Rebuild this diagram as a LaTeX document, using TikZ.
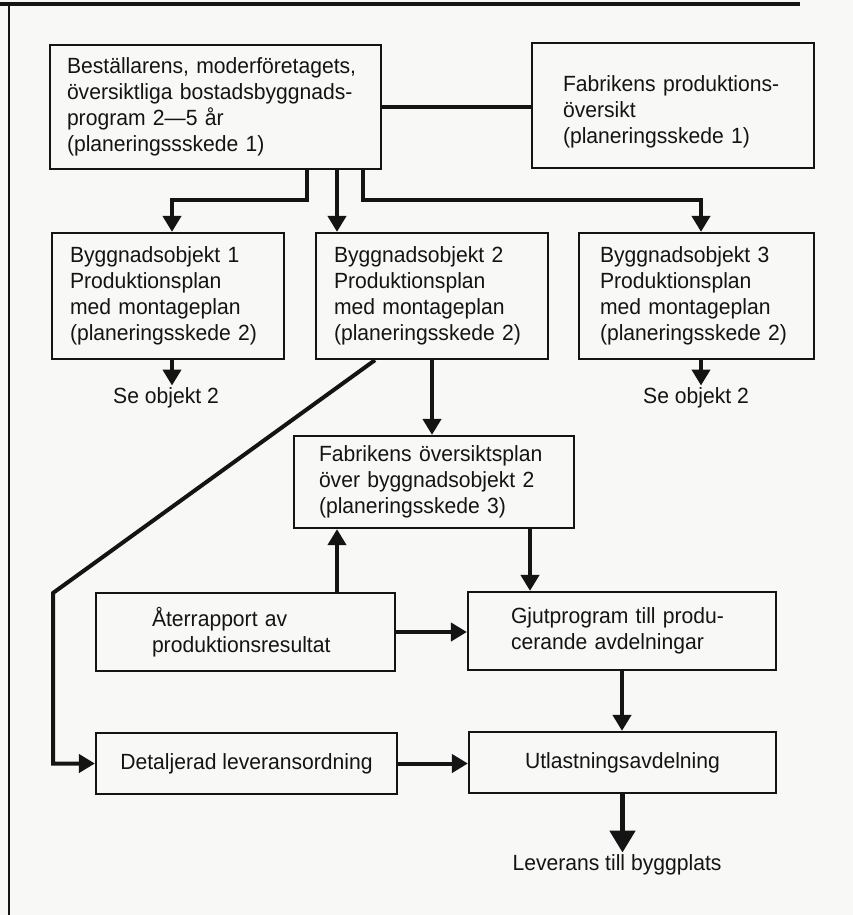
\documentclass[tikz,border=0pt]{standalone}
\usepackage{fontspec}
\setmainfont{Liberation Sans}[FakeStretch=0.96]
\usetikzlibrary{arrows.meta}
\definecolor{paper}{RGB}{248,248,246}
\definecolor{ink}{RGB}{20,20,20}
\begin{document}
\begin{tikzpicture}[x=1pt,y=-1pt,
  font=\fontsize{22}{26}\selectfont,
  every node/.style={text=ink},
  box/.style={draw=ink, line width=2.2pt, align=left, inner ysep=0pt},
  cbox/.style={draw=ink, line width=2.2pt, align=center, inner ysep=0pt},
  conn/.style={draw=ink, line width=4pt},
  arr/.style={conn, -{Triangle[width=18pt,length=16pt]}},
  bigarr/.style={draw=ink, line width=5pt, -{Triangle[width=25pt,length=22pt]}},
  lbl/.style={inner sep=2pt},
  frame/.style={draw=ink}]
\fill[paper] (0,0) rectangle (853,915);
\useasboundingbox (0,0) rectangle (853,915);
\draw[frame, line width=3.5pt] (0,4) -- (800,4);
\draw[frame, line width=2.5pt] (9,3) -- (9,915);

\node[box, minimum width=331pt, minimum height=124pt, inner xsep=17pt, text width=297pt] (A) at (215.5,107)
  {Beställarens, moderföretagets,\\översiktliga bostadsbyggnads-\\program 2—5 år\\(planeringssskede 1)};
\node[box, minimum width=282pt, minimum height=125pt, inner xsep=31pt, text width=220pt] (B) at (673,105.5)
  {\rule{0pt}{28pt}Fabrikens produktions-\\översikt\\(planeringsskede 1)};
\node[box, minimum width=232pt, minimum height=126pt, inner xsep=18pt, text width=196pt] (B1) at (168,296)
  {Byggnadsobjekt 1\\Produktionsplan\\med montageplan\\(planeringsskede 2)};
\node[box, minimum width=232pt, minimum height=126pt, inner xsep=18pt, text width=196pt] (B2) at (432,296)
  {Byggnadsobjekt 2\\Produktionsplan\\med montageplan\\(planeringsskede 2)};
\node[box, minimum width=235pt, minimum height=126pt, inner xsep=21pt, text width=193pt] (B3) at (696.5,296)
  {Byggnadsobjekt 3\\Produktionsplan\\med montageplan\\(planeringsskede 2)};
\node[box, minimum width=280pt, minimum height=92pt, inner xsep=25pt, text width=230pt] (C) at (434,482)
  {Fabrikens översiktsplan\\över byggnadsobjekt 2\\(planeringsskede 3)};
\node[box, minimum width=299pt, minimum height=78pt, inner xsep=56pt, text width=187pt] (R) at (245.5,632)
  {Återrapport av\\produktionsresultat};
\node[box, minimum width=308pt, minimum height=78pt, inner xsep=43pt, text width=222pt] (G) at (622,631)
  {Gjutprogram till produ-\\cerande avdelningar};
\node[cbox, minimum width=301pt, minimum height=61pt] (D) at (246.5,763.5) {Detaljerad leveransordning};
\node[cbox, minimum width=307pt, minimum height=61pt] (U) at (622.5,762.5) {Utlastningsavdelning};

\node[lbl] (se1) at (166,398) {Se objekt 2};
\node[lbl] (se3) at (696,398) {Se objekt 2};
\node[lbl] (lev) at (617,865) {Leverans till byggplats};

\coordinate (h) at (0,200);
\coordinate (k) at (53,593);

\draw[conn] (A.east) -- (A.east -| B.west);
\draw[arr] ([xshift=91.5pt]A.south) -- ([xshift=91.5pt]A.south |- h) -| ([xshift=4pt]B1.north);
\draw[arr] ([xshift=121.5pt]A.south) -- ([xshift=121.5pt]A.south |- B2.north);
\draw[arr] ([xshift=147.5pt]A.south) -- ([xshift=147.5pt]A.south |- h) -| ([xshift=4.5pt]B3.north);
\draw[arr] ([xshift=4pt]B1.south) -- ([xshift=4pt]B1.south |- se1.north);
\draw[arr] ([xshift=4.5pt]B3.south) -- ([xshift=4.5pt]B3.south |- se3.north);
\draw[arr] (B2.south) -- (B2.south |- C.north);
\draw[arr] ([xshift=-57pt]B2.south) -- (k) |- (D.west);
\draw[arr] ([xshift=91.5pt]R.north) -- ([xshift=91.5pt]R.north |- C.south);
\draw[arr] ([xshift=96pt]C.south) -- ([xshift=96pt]C.south |- G.north);
\draw[arr] (R.east) -- (R.east -| G.west);
\draw[arr] (G.south) -- (G.south |- U.north);
\draw[arr] (D.east) -- (D.east -| U.west);
\draw[bigarr] (U.south) -- (U.south |- lev.north);
\end{tikzpicture}
\end{document}
